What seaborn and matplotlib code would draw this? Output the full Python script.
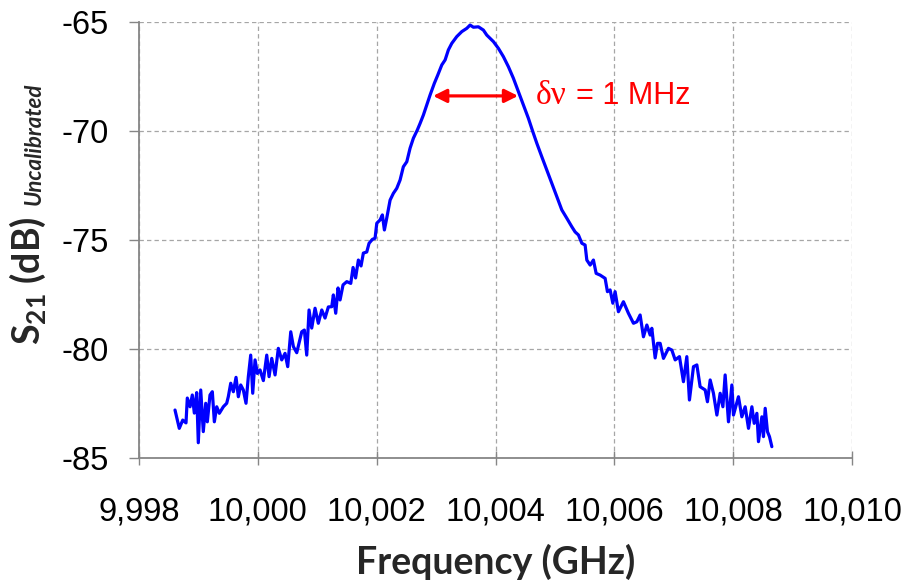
import matplotlib
matplotlib.use("Agg")
import matplotlib.pyplot as plt
import seaborn as sns
import pandas as pd

# ---- data ----
freq_mhz = [
    9998.606, 9998.678, 9998.736, 9998.791, 9998.813, 9998.859, 9998.897, 9998.931, 9998.971, 9998.998,
    9999.039, 9999.082, 9999.123, 9999.150, 9999.195, 9999.234, 9999.268, 9999.308, 9999.352, 9999.419,
    9999.476, 9999.503, 9999.544, 9999.588, 9999.633, 9999.672, 9999.712, 9999.756, 9999.801, 9999.840,
    9999.880, 9999.914, 9999.953, 9999.992, 10000.037, 10000.093, 10000.150, 10000.189, 10000.234, 10000.290,
    10000.345, 10000.402, 10000.458, 10000.503, 10000.554, 10000.598, 10000.655, 10000.739, 10000.783, 10000.823,
    10000.862, 10000.907, 10000.963, 10001.018, 10001.076, 10001.131, 10001.187, 10001.244, 10001.271, 10001.311,
    10001.350, 10001.384, 10001.434, 10001.497, 10001.564, 10001.603, 10001.645, 10001.692, 10001.737, 10001.776,
    10001.833, 10001.872, 10001.928, 10001.973, 10002.002, 10002.057, 10002.096, 10002.130, 10002.170, 10002.226,
    10002.281, 10002.338, 10002.394, 10002.449, 10002.507, 10002.562, 10002.618, 10002.685, 10002.731, 10002.786,
    10002.843, 10002.899, 10002.971, 10003.029, 10003.096, 10003.152, 10003.207, 10003.264, 10003.348, 10003.433,
    10003.517, 10003.572, 10003.628, 10003.712, 10003.796, 10003.853, 10003.965, 10004.049, 10004.133, 10004.217,
    10004.301, 10004.386, 10004.470, 10004.554, 10004.628, 10004.695, 10004.779, 10004.864, 10004.948, 10005.032,
    10005.116, 10005.200, 10005.284, 10005.340, 10005.396, 10005.453, 10005.508, 10005.537, 10005.593, 10005.648,
    10005.694, 10005.761, 10005.845, 10005.884, 10005.929, 10005.975, 10006.013, 10006.069, 10006.153, 10006.237,
    10006.322, 10006.379, 10006.434, 10006.490, 10006.547, 10006.603, 10006.631, 10006.687, 10006.726, 10006.771,
    10006.827, 10006.911, 10006.968, 10007.024, 10007.096, 10007.163, 10007.220, 10007.264, 10007.332, 10007.389,
    10007.444, 10007.529, 10007.567, 10007.613, 10007.668, 10007.726, 10007.781, 10007.827, 10007.865, 10007.921,
    10007.978, 10008.005, 10008.089, 10008.146, 10008.202, 10008.258, 10008.315, 10008.354, 10008.399, 10008.426,
    10008.483, 10008.510, 10008.539, 10008.577, 10008.611, 10008.651,
]
s21_db = [
    -82.80, -83.64, -83.26, -83.39, -82.25, -82.65, -82.11, -82.94, -82.00, -84.30,
    -81.88, -83.79, -82.49, -83.34, -82.11, -81.96, -83.34, -82.65, -82.95, -82.65,
    -82.49, -82.19, -81.57, -81.96, -81.30, -82.19, -81.65, -81.88, -82.49, -81.27,
    -80.28, -82.03, -80.50, -81.12, -80.96, -81.45, -80.28, -81.27, -80.43, -81.19,
    -79.97, -80.50, -80.20, -80.81, -79.21, -79.89, -80.17, -79.21, -79.13, -80.28,
    -78.21, -79.04, -78.13, -78.82, -78.21, -78.58, -78.07, -78.06, -77.52, -78.36,
    -77.20, -77.75, -77.06, -76.91, -76.99, -76.26, -76.74, -75.92, -76.19, -75.60,
    -75.55, -75.15, -74.97, -74.92, -74.23, -74.08, -73.85, -74.54, -73.99, -73.17,
    -72.86, -72.63, -72.25, -71.64, -71.41, -70.79, -70.33, -69.95, -69.65, -69.27,
    -68.81, -68.35, -67.81, -67.43, -66.97, -66.74, -66.28, -65.98, -65.67, -65.44,
    -65.29, -65.14, -65.24, -65.22, -65.37, -65.60, -65.90, -66.21, -66.59, -67.05,
    -67.58, -68.20, -68.81, -69.42, -70.03, -70.56, -71.18, -71.79, -72.40, -73.01,
    -73.62, -74.00, -74.39, -74.63, -74.77, -75.15, -75.23, -75.92, -76.15, -75.92,
    -76.53, -76.61, -76.76, -77.37, -77.29, -77.90, -77.37, -78.29, -77.83, -78.36,
    -78.82, -78.75, -78.44, -79.44, -78.90, -79.36, -79.05, -80.41, -79.74, -79.74,
    -80.43, -79.97, -80.05, -80.50, -80.35, -81.50, -80.35, -82.34, -80.81, -80.73,
    -81.73, -81.88, -82.42, -81.42, -82.03, -83.03, -82.03, -82.65, -81.19, -83.34,
    -81.65, -83.03, -82.19, -83.11, -82.65, -83.64, -82.65, -83.41, -82.95, -84.25,
    -83.11, -84.02, -82.72, -83.79, -84.02, -84.48,
]
x_ticks = [9998, 10000, 10002, 10004, 10006, 10008, 10010]
x_tick_labels = ["9,998", "10,000", "10,002", "10,004", "10,006", "10,008", "10,010"]
y_ticks = [-85, -80, -75, -70, -65]
y_tick_labels = ["-85", "-80", "-75", "-70", "-65"]
linewidth_label = "\u03b4\u03bd"
linewidth_value = "= 1 MHz"

df = pd.DataFrame({"freq": freq_mhz, "s21": s21_db})

sns.set_style("white")
plt.rcParams["font.family"] = ["Liberation Sans", "DejaVu Sans"]
plt.rcParams["mathtext.fontset"] = "custom"
plt.rcParams["mathtext.bf"] = "Lato:bold"
plt.rcParams["mathtext.rm"] = "Lato"
plt.rcParams["mathtext.it"] = "Lato:italic"

W, H = 904, 585
fig = plt.figure(figsize=(W / 100, H / 100), dpi=100)
ax = fig.add_axes([139 / W, 1 - 458 / H, (852 - 139) / W, (458 - 22) / H])

sns.lineplot(data=df, x="freq", y="s21", ax=ax, color="#0000FF",
             linewidth=2.3, estimator=None, sort=False)

ax.set_xlim(9998, 10010)
ax.set_ylim(-85, -65)
ax.set_xticks(x_ticks)
ax.set_xticklabels(x_tick_labels)
ax.set_yticks(y_ticks)
ax.set_yticklabels(y_tick_labels)
ax.set_xlabel("")
ax.set_ylabel("")

ax.grid(True, color="#A6A6A6", linestyle=(0, (3.5, 2.5)), linewidth=0.9)
ax.set_axisbelow(True)
for s in ["top", "right"]:
    ax.spines[s].set_visible(False)
for s in ["left", "bottom"]:
    ax.spines[s].set_color("#868686")
    ax.spines[s].set_linewidth(1.3)

ax.tick_params(axis="y", direction="out", length=7, width=1, color="#868686",
               pad=15, labelsize=23.5, labelcolor="black", left=True)
ax.tick_params(axis="x", direction="inout", length=10, width=1, color="#868686",
               pad=23, labelsize=23.5, labelcolor="black", bottom=True)

# annotation: linewidth arrow
ax.annotate("", xy=(10002.95, -68.39), xytext=(10004.38, -68.39),
            arrowprops=dict(arrowstyle="<|-|>", color="#FF0000", lw=2.3,
                            mutation_scale=20, shrinkA=0, shrinkB=0))
ax.text(10004.68, -68.39, linewidth_label, color="#FF0000", fontsize=24,
        family=["Liberation Serif", "DejaVu Serif"], ha="left", va="center")
ax.text(10005.36, -68.39, linewidth_value, color="#FF0000", fontsize=22,
        ha="left", va="center")

# axis titles
fig.text(495.5 / W, 1 - 574 / H, "Frequency (GHz)", fontsize=27,
         fontweight="bold", family=["Lato", "DejaVu Sans"], ha="center", va="baseline")

def vt(xp, yp, s, **kw):
    fig.text(xp / W, 1 - yp / H, s, rotation=90, rotation_mode="anchor",
             ha="left", va="baseline", **kw)

vt(40, 345, r"$\mathbf{S_{21}}$ (dB)", fontsize=27, fontweight="bold",
   family=["Lato", "DejaVu Sans"])
vt(41, 205, "Uncalibrated", fontsize=16, fontweight="bold", fontstyle="italic",
   family=["Lato", "DejaVu Sans"])

fig.savefig("out.png", dpi=100)
